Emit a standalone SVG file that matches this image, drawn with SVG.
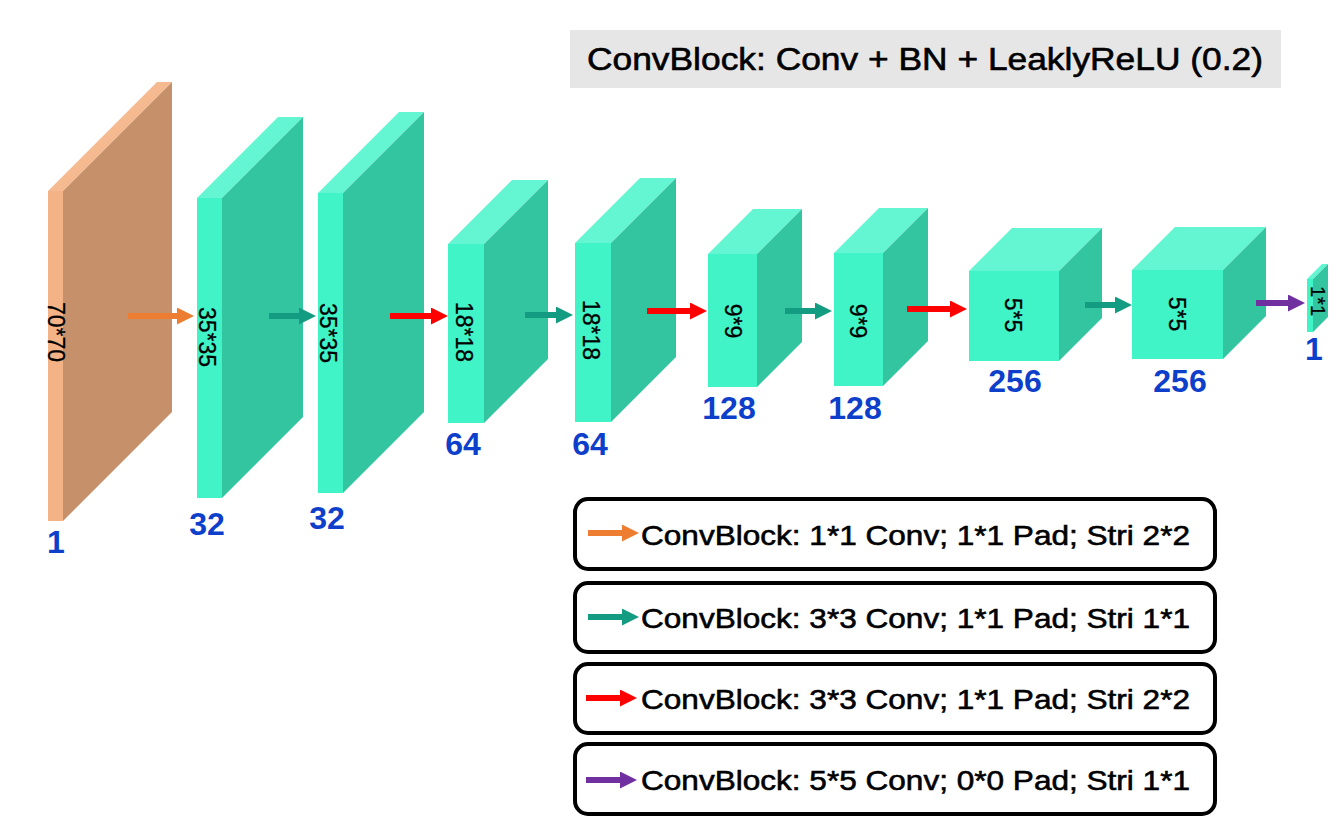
<svg xmlns="http://www.w3.org/2000/svg" width="1341" height="820" viewBox="0 0 1341 820">
<style>
.tf{fill:#41F4C7}.ts{fill:#32C59F}.tt{fill:#64F6D3}
.of{fill:#F4B387}.os{fill:#C5906A}.ot{fill:#F6BA90}
.dim{font-family:"Liberation Sans",Arial,sans-serif;font-size:23px;fill:#000;stroke:#000;stroke-width:0.3;text-anchor:middle}
.ch{font-family:"Liberation Sans",Arial,sans-serif;font-size:32px;font-weight:bold;fill:#0E3FCB;text-anchor:middle}
.leg{font-family:"Liberation Sans",Arial,sans-serif;font-size:28px;fill:#000;stroke:#000;stroke-width:0.6}
.box{fill:#fff;stroke:#000;stroke-width:4}
.a{stroke-width:6;fill:none}
</style>
<defs>
<marker id="hO" viewBox="0 0 17 17" markerWidth="17" markerHeight="17" markerUnits="userSpaceOnUse" refX="0" refY="8.5" orient="auto"><path d="M0,0 L17,8.5 L0,17 z" fill="#ED7D31"/></marker>
<marker id="hT" viewBox="0 0 17 17" markerWidth="17" markerHeight="17" markerUnits="userSpaceOnUse" refX="0" refY="8.5" orient="auto"><path d="M0,0 L17,8.5 L0,17 z" fill="#149C82"/></marker>
<marker id="hR" viewBox="0 0 17 17" markerWidth="17" markerHeight="17" markerUnits="userSpaceOnUse" refX="0" refY="8.5" orient="auto"><path d="M0,0 L17,8.5 L0,17 z" fill="#FF0000"/></marker>
<marker id="hP" viewBox="0 0 17 17" markerWidth="17" markerHeight="17" markerUnits="userSpaceOnUse" refX="0" refY="8.5" orient="auto"><path d="M0,0 L17,8.5 L0,17 z" fill="#7030A0"/></marker>
</defs>
<rect width="1341" height="820" fill="#fff"/>

<g id="title">
<rect x="570" y="30" width="711" height="58" fill="#E7E6E6"/>
<text x="587" y="70" font-family="'Liberation Sans',Arial,sans-serif" font-size="31" fill="#000" stroke="#000" stroke-width="0.6" textLength="676" lengthAdjust="spacingAndGlyphs">ConvBlock: Conv + BN + LeaklyReLU (0.2)</text>
</g>

<g id="block1">
<polygon class="ot" points="48,191 63,191 172,82 157,82"/>
<polygon class="os" points="63,191 172,82 172,412 63,521"/>
<rect class="of" x="48" y="191" width="15" height="330"/>
<text class="dim" transform="translate(56,332) rotate(90)" y="8">70*70</text>
<text class="ch" x="56" y="553">1</text>
</g>

<g id="block2">
<polygon class="tt" points="197,198 222,198 303,117 278,117"/>
<polygon class="ts" points="222,198 303,117 303,417 222,498"/>
<rect class="tf" x="197" y="198" width="25" height="300"/>
<text class="dim" transform="translate(207,337) rotate(90)" y="8">35*35</text>
<text class="ch" x="207" y="535">32</text>
</g>

<g id="block3">
<polygon class="tt" points="318,193 343,193 424,112 399,112"/>
<polygon class="ts" points="343,193 424,112 424,412 343,493"/>
<rect class="tf" x="318" y="193" width="25" height="300"/>
<text class="dim" transform="translate(328,333) rotate(90)" y="8">35*35</text>
<text class="ch" x="327" y="529">32</text>
</g>

<g id="block4">
<polygon class="tt" points="448,244 484,244 548,180 512,180"/>
<polygon class="ts" points="484,244 548,180 548,359 484,423"/>
<rect class="tf" x="448" y="244" width="36" height="179"/>
<text class="dim" transform="translate(464,332) rotate(90)" y="8">18*18</text>
<text class="ch" x="463" y="455">64</text>
</g>

<g id="block5">
<polygon class="tt" points="575,243 611,243 676,178 640,178"/>
<polygon class="ts" points="611,243 676,178 676,357 611,422"/>
<rect class="tf" x="575" y="243" width="36" height="179"/>
<text class="dim" transform="translate(591,330) rotate(90)" y="8">18*18</text>
<text class="ch" x="590" y="455">64</text>
</g>

<g id="block6">
<polygon class="tt" points="708,254 757,254 802,209 753,209"/>
<polygon class="ts" points="757,254 802,209 802,342 757,387"/>
<rect class="tf" x="708" y="254" width="49" height="133"/>
<text class="dim" transform="translate(733,321) rotate(90)" y="8">9*9</text>
<text class="ch" x="729" y="419">128</text>
</g>

<g id="block7">
<polygon class="tt" points="834,253 883,253 928,208 879,208"/>
<polygon class="ts" points="883,253 928,208 928,341 883,386"/>
<rect class="tf" x="834" y="253" width="49" height="133"/>
<text class="dim" transform="translate(858,321) rotate(90)" y="8">9*9</text>
<text class="ch" x="855" y="419">128</text>
</g>

<g id="block8">
<polygon class="tt" points="969,271 1059,271 1102,228 1012,228"/>
<polygon class="ts" points="1059,271 1102,228 1102,318 1059,361"/>
<rect class="tf" x="969" y="271" width="90" height="90"/>
<text class="dim" transform="translate(1013,315) rotate(90)" y="8">5*5</text>
<text class="ch" x="1015" y="392">256</text>
</g>

<g id="block9">
<polygon class="tt" points="1132,270 1223,270 1266,227 1175,227"/>
<polygon class="ts" points="1223,270 1266,227 1266,316 1223,359"/>
<rect class="tf" x="1132" y="270" width="91" height="89"/>
<text class="dim" transform="translate(1177,314) rotate(90)" y="8">5*5</text>
<text class="ch" x="1180" y="392">256</text>
</g>

<g id="block10">
<polygon class="tt" points="1307,279 1313,279 1328,264 1322,264"/>
<polygon class="ts" points="1313,279 1328,264 1328,317 1313,332"/>
<rect class="tf" x="1307" y="279" width="6" height="53"/>
<text class="dim" style="font-size:20px" transform="translate(1318,301) rotate(90)" y="7">1*1</text>
<text class="ch" x="1314" y="360">1</text>
</g>

<g id="connectors">
<line class="a" x1="128" y1="316" x2="177" y2="316" stroke="#ED7D31" marker-end="url(#hO)"/>
<line class="a" x1="269" y1="316" x2="299" y2="316" stroke="#149C82" marker-end="url(#hT)"/>
<line class="a" x1="390" y1="316" x2="431" y2="316" stroke="#FF0000" marker-end="url(#hR)"/>
<line class="a" x1="525" y1="315" x2="556" y2="315" stroke="#149C82" marker-end="url(#hT)"/>
<line class="a" x1="647" y1="311" x2="690" y2="311" stroke="#FF0000" marker-end="url(#hR)"/>
<line class="a" x1="785" y1="311" x2="815" y2="311" stroke="#149C82" marker-end="url(#hT)"/>
<line class="a" x1="907" y1="309" x2="950" y2="309" stroke="#FF0000" marker-end="url(#hR)"/>
<line class="a" x1="1085" y1="305" x2="1115" y2="305" stroke="#149C82" marker-end="url(#hT)"/>
<line class="a" x1="1256" y1="303" x2="1288" y2="303" stroke="#7030A0" marker-end="url(#hP)"/>
</g>

<g id="legend1">
<rect class="box" x="575" y="499" width="640" height="70" rx="13"/>
<line class="a" x1="588" y1="533" x2="622" y2="533" stroke="#ED7D31" marker-end="url(#hO)"/>
<text class="leg" x="641" y="545" textLength="549" lengthAdjust="spacingAndGlyphs">ConvBlock: 1*1 Conv; 1*1 Pad; Stri 2*2</text>
</g>
<g id="legend2">
<rect class="box" x="575" y="583" width="640" height="69" rx="13"/>
<line class="a" x1="588" y1="617" x2="622" y2="617" stroke="#149C82" marker-end="url(#hT)"/>
<text class="leg" x="641" y="628" textLength="549" lengthAdjust="spacingAndGlyphs">ConvBlock: 3*3 Conv; 1*1 Pad; Stri 1*1</text>
</g>
<g id="legend3">
<rect class="box" x="575" y="664" width="640" height="69" rx="13"/>
<line class="a" x1="586" y1="698" x2="620" y2="698" stroke="#FF0000" marker-end="url(#hR)"/>
<text class="leg" x="641" y="709" textLength="549" lengthAdjust="spacingAndGlyphs">ConvBlock: 3*3 Conv; 1*1 Pad; Stri 2*2</text>
</g>
<g id="legend4">
<rect class="box" x="575" y="744" width="640" height="70" rx="13"/>
<line class="a" x1="586" y1="780" x2="620" y2="780" stroke="#7030A0" marker-end="url(#hP)"/>
<text class="leg" x="641" y="790" textLength="549" lengthAdjust="spacingAndGlyphs">ConvBlock: 5*5 Conv; 0*0 Pad; Stri 1*1</text>
</g>
</svg>
